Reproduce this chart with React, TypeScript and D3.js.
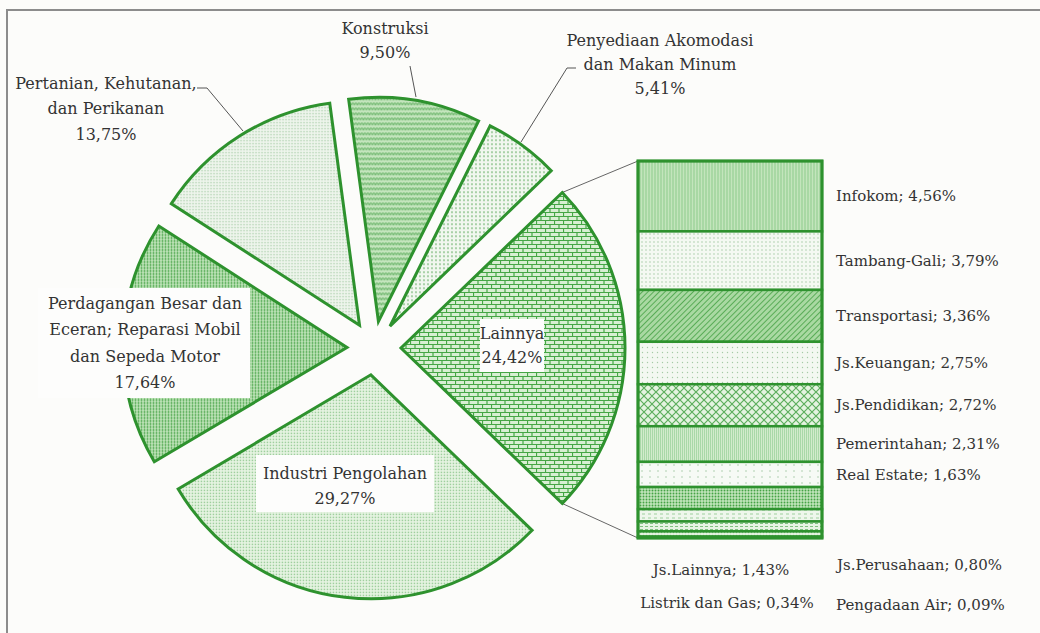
import React from 'react';
import * as d3 from 'd3';

// main pie: share of GDP by sector (%)
const sectors = [
  'Konstruksi',
  'Penyediaan Akomodasi dan Makan Minum',
  'Lainnya',
  'Industri Pengolahan',
  'Perdagangan Besar dan Eceran; Reparasi Mobil dan Sepeda Motor',
  'Pertanian, Kehutanan, dan Perikanan',
];
const shares = [9.5, 5.41, 24.42, 29.27, 17.64, 13.75];

// the "Lainnya" slice broken down in the bar
const subSectors = [
  'Infokom', 'Tambang-Gali', 'Transportasi', 'Js.Keuangan', 'Js.Pendidikan',
  'Pemerintahan', 'Real Estate', 'Js.Lainnya', 'Js.Perusahaan', 'Listrik dan Gas', 'Pengadaan Air',
];
const subShares = [4.56, 3.79, 3.36, 2.75, 2.72, 2.31, 1.63, 1.43, 0.8, 0.34, 0.09];

// label layout (line breaks, centre x, first line y, line gap)
const sectorLines = [
  ['Konstruksi'],
  ['Penyediaan Akomodasi', 'dan Makan Minum'],
  ['Lainnya'],
  ['Industri Pengolahan'],
  ['Perdagangan Besar dan', 'Eceran; Reparasi Mobil', 'dan Sepeda Motor'],
  ['Pertanian, Kehutanan,', 'dan Perikanan'],
];
const sectorLabelPos: [number, number, number][] = [
  [385, 28, 24.5],
  [660, 40, 24],
  [512, 333, 24],
  [345, 473, 25],
  [145, 303, 26.5],
  [106, 83, 25.5],
];
const sectorBoxes: ([number, number, number, number] | null)[] = [
  null, null, [480, 319, 64, 53], [256, 455, 178, 57], [38, 288, 212, 110], null,
];
const leaders: ([number, number][] | null)[] = [
  [[410, 66], [416, 97]],
  [[576, 68], [567, 68], [521, 142]],
  null, null, null,
  [[197, 88], [207, 88], [243, 131]],
];
const sectorFills = ['pWeave', 'pDotGrid', 'pBrick', 'pFineDot', 'pDenseDot', 'pLightDot'];

// small bar segments get their labels below the bar
const smallLabelPos: Record<string, [number, number, string]> = {
  'Js.Lainnya': [721, 570, 'middle'],
  'Listrik dan Gas': [727, 603, 'middle'],
  'Js.Perusahaan': [837, 565, 'start'],
  'Pengadaan Air': [836, 605, 'start'],
};
const subFills = ['pVert', 'pDotGrid2', 'pDiag', 'pDotSparse', 'pDiamond', 'pVert2', 'pSparse', 'pDenseDot', 'pDash', 'pFineDot', 'pLightDot'];

const pct = (v: number) => v.toFixed(2).replace('.', ',') + '%';

const GREEN = '#2e922e';
const TEXT = '#333';
const FONT = '"DejaVu Serif", serif';

export default function App() {
  const W = 1040, H = 633;
  const cx = 374, cy = 348, R = 224, explode = 27;

  const total = d3.sum(shares);
  const li = sectors.indexOf('Lainnya');
  const before = d3.sum(shares.slice(0, li)) + shares[li] / 2;
  const start = Math.PI / 2 - (before / total) * 2 * Math.PI;
  const arcs = d3.pie<number>().sort(null).value(d => d)
    .startAngle(start).endAngle(start + 2 * Math.PI)(shares);
  const arc = d3.arc<d3.PieArcDatum<number>>().innerRadius(0).outerRadius(R);
  const offset = (a: d3.PieArcDatum<number>) => {
    const m = (a.startAngle + a.endAngle) / 2;
    return [cx + explode * Math.sin(m), cy - explode * Math.cos(m)];
  };

  // bar rows: the listed sub sectors plus whatever of Lainnya is not labelled
  const rest = +(shares[li] - d3.sum(subShares)).toFixed(2);
  const rows = subSectors.map((name, i) => ({ name, value: subShares[i], fill: subFills[i] }));
  rows.splice(rows.findIndex(r => r.name === 'Js.Perusahaan') + 1, 0, { name: '', value: rest, fill: 'pDash2' });
  const ends = d3.cumsum(rows.map(r => r.value));
  const barX0 = 638, barX1 = 822;
  const y = d3.scaleLinear().domain([0, ends[ends.length - 1]]).range([161, 538]);

  const la = arcs[li];
  const [lx, ly] = offset(la);
  const c1 = [lx + R * Math.sin(la.startAngle), ly - R * Math.cos(la.startAngle)];
  const c2 = [lx + R * Math.sin(la.endAngle), ly - R * Math.cos(la.endAngle)];

  return (
    <svg width={W} height={H} style={{ position: 'absolute', left: 0, top: 0, display: 'block' }}>
      <defs>
        <pattern id="pWeave" width="6" height="5" patternUnits="userSpaceOnUse">
          <rect width="6" height="5" fill="#c4e5bd" />
          <path d="M0 3.8L1.5 1.2L3 3.8L4.5 1.2L6 3.8" stroke="#5aac5a" strokeWidth="1" fill="none" />
        </pattern>
        <pattern id="pDotGrid" width="4" height="4" patternUnits="userSpaceOnUse">
          <rect width="4" height="4" fill="#f1f7ef" />
          <circle cx="2" cy="2" r="0.9" fill="#86bf86" />
        </pattern>
        <pattern id="pBrick" width="9" height="8" patternUnits="userSpaceOnUse">
          <rect width="9" height="8" fill="#d8efd3" />
          <path d="M0 0.5H9M0 4.5H9M0.5 0.5V4.5M5 4.5V8.5" stroke="#45a645" strokeWidth="1.2" fill="none" />
        </pattern>
        <pattern id="pFineDot" width="3" height="3" patternUnits="userSpaceOnUse">
          <rect width="3" height="3" fill="#e5f3e1" />
          <circle cx="1.5" cy="1.5" r="0.75" fill="#88c588" />
        </pattern>
        <pattern id="pDenseDot" width="3" height="3" patternUnits="userSpaceOnUse">
          <rect width="3" height="3" fill="#c2e5bb" />
          <circle cx="1.5" cy="1.5" r="0.95" fill="#45a345" />
        </pattern>
        <pattern id="pLightDot" width="3" height="3" patternUnits="userSpaceOnUse">
          <rect width="3" height="3" fill="#eef5ec" />
          <circle cx="1.5" cy="1.5" r="0.65" fill="#a0c9a0" />
        </pattern>
        <pattern id="pVert" width="3" height="3" patternUnits="userSpaceOnUse">
          <rect width="3" height="3" fill="#c3e5bc" />
          <path d="M1 0V3" stroke="#8dcc8d" strokeWidth="1" />
        </pattern>
        <pattern id="pDotGrid2" width="4" height="4" patternUnits="userSpaceOnUse">
          <rect width="4" height="4" fill="#f4f9f2" />
          <circle cx="2" cy="2" r="0.7" fill="#9cc69c" />
        </pattern>
        <pattern id="pDiag" width="4" height="4" patternUnits="userSpaceOnUse" patternTransform="rotate(45)">
          <rect width="4" height="4" fill="#a9d9a2" />
          <path d="M0 0V4" stroke="#3e9d3e" strokeWidth="1.5" />
        </pattern>
        <pattern id="pDotSparse" width="5" height="5" patternUnits="userSpaceOnUse">
          <rect width="5" height="5" fill="#f3f8f1" />
          <circle cx="2.5" cy="2.5" r="0.7" fill="#a6cba6" />
        </pattern>
        <pattern id="pDiamond" width="8" height="8" patternUnits="userSpaceOnUse">
          <rect width="8" height="8" fill="#e4f3e0" />
          <path d="M0 0L8 8M8 0L0 8" stroke="#5cae5c" strokeWidth="1.2" />
        </pattern>
        <pattern id="pVert2" width="2" height="4" patternUnits="userSpaceOnUse">
          <rect width="2" height="4" fill="#d2ebcc" />
          <path d="M0.5 0V4" stroke="#9ed39e" strokeWidth="0.8" />
        </pattern>
        <pattern id="pSparse" width="8" height="6" patternUnits="userSpaceOnUse">
          <rect width="8" height="6" fill="#f6faf5" />
          <circle cx="2" cy="3" r="0.8" fill="#a8cca8" />
        </pattern>
        <pattern id="pDash" width="6" height="4" patternUnits="userSpaceOnUse">
          <rect width="6" height="4" fill="#eef7ec" />
          <path d="M0 2H3" stroke="#9fcf9f" strokeWidth="1" />
        </pattern>
        <pattern id="pDash2" width="5" height="3" patternUnits="userSpaceOnUse">
          <rect width="5" height="3" fill="#e6f3e2" />
          <path d="M0 1.5H3" stroke="#7fc07f" strokeWidth="1" />
        </pattern>
      </defs>

      <rect width={W} height={H} fill="#fcfcfa" />
      <rect x={7} y={10} width={W + 20} height={H + 20} fill="none" stroke="#8c8c8c" strokeWidth={2} />

      {/* connectors from Lainnya to the bar */}
      <line x1={c1[0]} y1={c1[1]} x2={barX0} y2={y(0)} stroke="#666" strokeWidth={1} />
      <line x1={c2[0]} y1={c2[1]} x2={barX0} y2={y(ends[ends.length - 1])} stroke="#666" strokeWidth={1} />

      {arcs.map((a, i) => {
        const [tx, ty] = offset(a);
        return (
          <path key={i} d={arc(a) || ''} transform={`translate(${tx},${ty})`}
            fill={`url(#${sectorFills[i]})`} stroke={GREEN} strokeWidth={3} strokeLinejoin="miter" />
        );
      })}

      {leaders.map((pts, i) => pts && (
        <polyline key={i} points={pts.map(p => p.join(',')).join(' ')} fill="none" stroke="#555" strokeWidth={1} />
      ))}

      {sectorBoxes.map((b, i) => b && (
        <rect key={i} x={b[0]} y={b[1]} width={b[2]} height={b[3]} fill="#fdfdfc" />
      ))}

      {sectors.map((s, i) => {
        const [x, y0, gap] = sectorLabelPos[i];
        const lines = [...sectorLines[i], pct(shares[i])];
        return (
          <text key={s} x={x} textAnchor="middle" fontFamily={FONT} fontSize={16} fill={TEXT}>
            {lines.map((l, k) => (
              <tspan key={k} x={x} y={y0 + k * gap} dy="0.35em">{l}</tspan>
            ))}
          </text>
        );
      })}

      {rows.map((r, i) => (
        <rect key={i} x={barX0} y={y(ends[i] - r.value)} width={barX1 - barX0}
          height={y(ends[i]) - y(ends[i] - r.value)} fill={`url(#${r.fill})`}
          stroke={GREEN} strokeWidth={2.5} />
      ))}
      <rect x={barX0} y={y(0)} width={barX1 - barX0} height={y(ends[ends.length - 1]) - y(0)}
        fill="none" stroke={GREEN} strokeWidth={3} />

      {rows.map((r, i) => {
        if (!r.name) return null;
        const label = `${r.name}; ${pct(r.value)}`;
        const small = smallLabelPos[r.name];
        if (small) {
          return (
            <text key={r.name} x={small[0]} y={small[1]} dy="0.35em" textAnchor={small[2]}
              fontFamily={FONT} fontSize={15} fill={TEXT}>{label}</text>
          );
        }
        const ym = (y(ends[i] - r.value) + y(ends[i])) / 2;
        return (
          <text key={r.name} x={836} y={ym} dy="0.35em" fontFamily={FONT} fontSize={15} fill={TEXT}>{label}</text>
        );
      })}
    </svg>
  );
}
